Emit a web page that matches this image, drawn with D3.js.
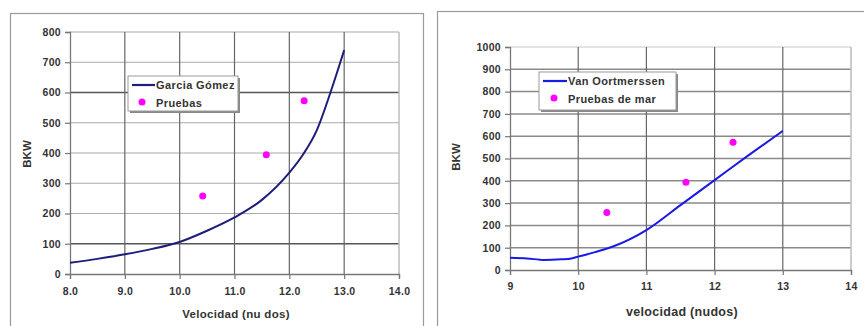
<!DOCTYPE html>
<html>
<head>
<meta charset="utf-8">
<script src="https://cdn.jsdelivr.net/npm/d3@7/dist/d3.min.js"></script>
<style>
  html, body { margin: 0; padding: 0; background: #fff; }
  svg { display: block; font-family: "Liberation Sans", Arial, sans-serif; }
</style>
</head>
<body>
<svg id="chart" width="864" height="326"></svg>
<script>
// left panel: Garcia Gómez vs trials
const garciaX = [8.0, 8.5, 9.0, 9.5, 10.0, 10.5, 11.0, 11.5, 12.0, 12.25, 12.5, 12.75, 13.0];
const garciaY = [37, 50, 65, 83, 106, 143, 187, 245, 335, 395, 475, 600, 740];
// right panel: Van Oortmerssen vs sea trials
const vanX = [9.0, 9.25, 9.5, 9.75, 9.9, 10.0, 10.25, 10.5, 11.0, 11.5, 12.0, 12.5, 13.0];
const vanY = [55, 52, 45, 48, 52, 60, 80, 104, 179, 291, 403, 515, 624];
// sea trial measurements (same in both panels)
const trialX = [10.42, 11.58, 12.27];
const trialY = [258, 394, 573];

const leftXTicks = [8, 9, 10, 11, 12, 13, 14];
const leftYTicks = [0, 100, 200, 300, 400, 500, 600, 700, 800];
const leftDarkY = [100, 600];
const rightXTicks = [9, 10, 11, 12, 13, 14];
const rightYTicks = [0, 100, 200, 300, 400, 500, 600, 700, 800, 900, 1000];

const svg = d3.select('#chart');

function drawPanel(cfg) {
  const g = svg.append('g');

  // outer frame
  g.append('rect')
    .attr('x', cfg.frame[0] + 0.5).attr('y', cfg.frame[1] + 0.5)
    .attr('width', cfg.frame[2]).attr('height', cfg.frame[3])
    .attr('fill', 'none').attr('stroke', '#9a9a9a').attr('stroke-width', 1.2);

  const x = d3.scaleLinear().domain(cfg.xDomain).range([cfg.plot.x0, cfg.plot.x1]);
  const y = d3.scaleLinear().domain(cfg.yDomain).range([cfg.plot.y0, cfg.plot.y1]);

  // horizontal grid
  g.selectAll('line.hgrid')
    .data(cfg.yTicks.filter((d) => d > 0))
    .join('line')
    .attr('class', 'hgrid')
    .attr('x1', x(cfg.xDomain[0])).attr('x2', x(cfg.xDomain[1]))
    .attr('y1', (d) => y(d)).attr('y2', (d) => y(d))
    .attr('stroke', (d) => cfg.hColor(d))
    .attr('stroke-width', (d) => cfg.hWidth(d));

  // vertical grid
  g.selectAll('line.vgrid')
    .data(cfg.xTicks.slice(1))
    .join('line')
    .attr('class', 'vgrid')
    .attr('x1', (d) => x(d)).attr('x2', (d) => x(d))
    .attr('y1', y(cfg.yDomain[0])).attr('y2', y(cfg.yDomain[1]))
    .attr('stroke', (d) => (d === cfg.xDomain[1] ? '#bdbdbd' : '#666'))
    .attr('stroke-width', (d) => (d === cfg.xDomain[1] ? 1.5 : 1.2));

  // axes
  const yAxis = d3.axisLeft(y).tickValues(cfg.yTicks).tickSize(5).tickPadding(4)
    .tickFormat(d3.format('d'));
  const xAxis = d3.axisBottom(x).tickValues(cfg.xTicks).tickSize(5).tickPadding(cfg.xPad)
    .tickFormat(cfg.xFormat);

  const ya = g.append('g').attr('transform', `translate(${cfg.plot.x0},0)`).call(yAxis);
  const xa = g.append('g').attr('transform', `translate(0,${cfg.plot.y0})`).call(xAxis);
  [ya, xa].forEach((a) => {
    a.attr('font-size', null).attr('font-family', null);
    a.select('.domain').attr('stroke', '#777').attr('stroke-width', 1.3);
    a.selectAll('.tick line').attr('stroke', '#777').attr('stroke-width', 1.2);
    a.selectAll('.tick text')
      .attr('fill', '#333').attr('font-size', 10.5).attr('font-weight', 'bold')
      .attr('letter-spacing', 0.3);
  });

  // curve
  const line = d3.line().x((d) => x(d[0])).y((d) => y(d[1])).curve(d3.curveMonotoneX);
  g.append('path')
    .datum(cfg.curveX.map((v, i) => [v, cfg.curveY[i]]))
    .attr('d', line)
    .attr('fill', 'none')
    .attr('stroke', cfg.curveColor)
    .attr('stroke-width', 2);

  // trial points
  g.selectAll('circle.trial')
    .data(trialX.map((v, i) => [v, trialY[i]]))
    .join('circle')
    .attr('class', 'trial')
    .attr('cx', (d) => x(d[0])).attr('cy', (d) => y(d[1]))
    .attr('r', 3.5)
    .attr('fill', '#ff00ff');

  // axis titles
  g.append('text')
    .attr('x', cfg.xTitlePos[0]).attr('y', cfg.xTitlePos[1])
    .attr('text-anchor', 'middle')
    .attr('font-size', cfg.xTitleSize).attr('font-weight', 'bold').attr('fill', '#333')
    .attr('letter-spacing', 0.3)
    .text(cfg.xTitle);
  g.append('text')
    .attr('transform', `translate(${cfg.yTitlePos[0]},${cfg.yTitlePos[1]}) rotate(-90)`)
    .attr('text-anchor', 'middle')
    .attr('font-size', 11.5).attr('font-weight', 'bold').attr('fill', '#333')
    .text('BKW');

  // legend
  const L = cfg.legend;
  const lg = g.append('g');
  lg.append('rect')
    .attr('x', L.x + 2).attr('y', L.y + 2).attr('width', L.w).attr('height', L.h)
    .attr('fill', '#888');
  lg.append('rect')
    .attr('x', L.x).attr('y', L.y).attr('width', L.w).attr('height', L.h)
    .attr('fill', '#fff').attr('stroke', '#999').attr('stroke-width', 1);
  lg.append('line')
    .attr('x1', L.x + 4).attr('x2', L.x + L.lineLen + 4)
    .attr('y1', L.y + 9).attr('y2', L.y + 9)
    .attr('stroke', cfg.curveColor).attr('stroke-width', 2.2);
  lg.append('text')
    .attr('x', L.x + L.lineLen + 5).attr('y', L.y + 13)
    .attr('font-size', 11).attr('font-weight', 'bold').attr('fill', '#333')
    .attr('letter-spacing', 0.4)
    .text(cfg.curveName);
  lg.append('circle')
    .attr('cx', L.x + L.dotX).attr('cy', L.y + 26).attr('r', 3.5)
    .attr('fill', '#ff00ff');
  lg.append('text')
    .attr('x', L.x + L.lineLen + 5).attr('y', L.y + 30.5)
    .attr('font-size', 11).attr('font-weight', 'bold').attr('fill', '#333')
    .attr('letter-spacing', 0.4)
    .text(cfg.trialName);
}

drawPanel({
  frame: [10, 13, 413, 330],
  plot: { x0: 70, x1: 399, y0: 274, y1: 32 },
  xDomain: [8, 14], yDomain: [0, 800],
  xTicks: leftXTicks, yTicks: leftYTicks, xPad: 9,
  xFormat: d3.format('.1f'),
  hColor: (d) => (leftDarkY.includes(d) ? '#555' : '#aaa'),
  hWidth: (d) => (leftDarkY.includes(d) ? 1.6 : 1.2),
  curveX: garciaX, curveY: garciaY, curveColor: '#1e1e7a',
  curveName: 'Garcia Gómez', trialName: 'Pruebas',
  xTitle: 'Velocidad (nu dos)', xTitlePos: [236, 318], xTitleSize: 11.5,
  yTitlePos: [31, 154],
  legend: { x: 128, y: 76, w: 110, h: 35, lineLen: 23, dotX: 14 }
});

drawPanel({
  frame: [437, 11, 440, 330],
  plot: { x0: 510, x1: 851, y0: 270, y1: 47 },
  xDomain: [9, 14], yDomain: [0, 1000],
  xTicks: rightXTicks, yTicks: rightYTicks, xPad: 8,
  xFormat: d3.format('d'),
  hColor: (d) => (d === 1000 ? '#c8c8c8' : '#8a8a8a'),
  hWidth: (d) => (d === 1000 ? 1.2 : 1.5),
  curveX: vanX, curveY: vanY, curveColor: '#1a1ae6',
  curveName: 'Van Oortmerssen', trialName: 'Pruebas de mar',
  xTitle: 'velocidad (nudos)', xTitlePos: [682, 316], xTitleSize: 12.5,
  yTitlePos: [460, 157],
  legend: { x: 539, y: 72, w: 137, h: 38, lineLen: 24, dotX: 15 }
});
</script>
</body>
</html>
